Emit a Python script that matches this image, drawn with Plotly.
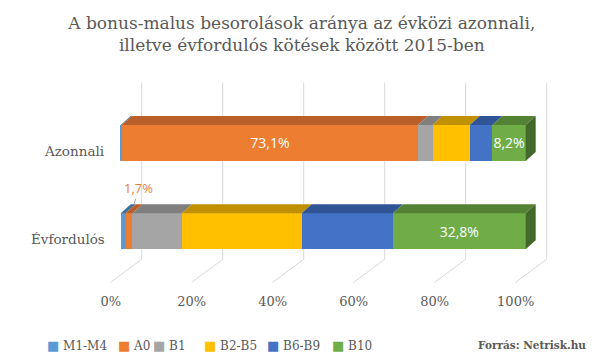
import plotly.graph_objects as go

# ---- data ----
categories = ["Évfordulós", "Azonnali"]
series = ["M1-M4", "A0", "B1", "B2-B5", "B6-B9", "B10"]
azonnali = [0.3, 73.1, 3.6, 9.2, 5.6, 8.2]
evfordulos = [1.2, 1.7, 12.2, 29.6, 22.5, 32.8]
tick_vals = [0, 20, 40, 60, 80, 100]
tick_text = ["0%", "20%", "40%", "60%", "80%", "100%"]
# which values get a data label: (category index, series index)
inside_labels = [(1, 1), (1, 5), (0, 5)]
outside_labels = [(0, 1)]

title = "A bonus-malus besorolások aránya az évközi azonnali,<br>illetve évfordulós kötések között 2015-ben"
source = "Forrás: Netrisk.hu"

# ---- style ----
front_colors = ["#5B9BD5", "#ED7D31", "#A5A5A5", "#FFC000", "#4472C4", "#70AD47"]
top_colors = ["#41719C", "#B9602A", "#7F7F7F", "#BF9000", "#2F5597", "#548235"]
side_colors = ["#335A7D", "#8E4A1F", "#666666", "#997300", "#253F6E", "#43682B"]
grid_color = "#D9D9D9"
text_color = "#595959"
serif = "DejaVu Serif"

bar_w = 0.408      # bar thickness (y units)
dx, dy = 2.47, 0.102   # bar depth offset
wall_dx, wall_bot, wall_top = 5.19, -0.317, 1.683
floor_dx, floor_y = -2.47, -0.578

values = [evfordulos, azonnali]
ypos = list(range(len(categories)))


def fmt(v):
    return f"{v:.1f}%".replace(".", ",")


fig = go.Figure()

# front faces
for si, name in enumerate(series):
    xs = [values[ci][si] for ci in ypos]
    txt = [fmt(values[ci][si]) if (ci, si) in inside_labels else "" for ci in ypos]
    fig.add_trace(go.Bar(
        y=ypos, x=xs, orientation="h", width=bar_w, name=name,
        marker=dict(color=front_colors[si], line=dict(width=0)),
        text=txt, textposition="inside", insidetextanchor="middle",
        textangle=0,
        textfont=dict(color="white", size=14, family="Open Sans"),
        showlegend=False, hoverinfo="skip",
    ))

# top faces and right face
for si, name in enumerate(series):
    px, py = [], []
    for ci in ypos:
        c0 = sum(values[ci][:si])
        c1 = c0 + values[ci][si]
        yt = ci + bar_w / 2
        px += [c0, c1, c1 + dx, c0 + dx, c0, None]
        py += [yt, yt, yt + dy, yt + dy, yt, None]
    fig.add_trace(go.Scatter(x=px, y=py, mode="lines", fill="toself",
                             fillcolor=top_colors[si], line=dict(width=0),
                             showlegend=False, hoverinfo="skip"))

last = len(series) - 1
sx, sy = [], []
for ci in ypos:
    tot = sum(values[ci])
    yb, yt = ci - bar_w / 2, ci + bar_w / 2
    sx += [tot, tot + dx, tot + dx, tot, tot, None]
    sy += [yb, yb + dy, yt + dy, yt, yb, None]
fig.add_trace(go.Scatter(x=sx, y=sy, mode="lines", fill="toself",
                         fillcolor=side_colors[last], line=dict(width=0),
                         showlegend=False, hoverinfo="skip"))

# invisible trace to carry the floor axis
fig.add_trace(go.Scatter(x=tick_vals, y=[floor_y] * len(tick_vals), xaxis="x2",
                         mode="markers", marker=dict(opacity=0),
                         showlegend=False, hoverinfo="skip"))

# back wall + floor gridlines
shapes = []
for v in tick_vals:
    shapes.append(dict(type="line", xref="x", yref="y", layer="below",
                       x0=v + wall_dx, x1=v + wall_dx, y0=wall_bot, y1=wall_top,
                       line=dict(color=grid_color, width=1)))
    shapes.append(dict(type="line", xref="x", yref="y", layer="below",
                       x0=v + wall_dx, x1=v + floor_dx, y0=wall_bot, y1=floor_y,
                       line=dict(color=grid_color, width=1)))

annotations = []
# category labels
for ci, cat in enumerate(categories):
    annotations.append(dict(x=-3.4, y=ci, xref="x", yref="y", text=cat,
                            xanchor="right", yanchor="middle", yshift=-8,
                            showarrow=False,
                            font=dict(family=serif, size=13.5, color=text_color)))
# outside label with leader line
for ci, si in outside_labels:
    c0 = sum(values[ci][:si])
    cx = c0 + values[ci][si] / 2 + dx / 2
    annotations.append(dict(x=cx, y=ci + bar_w / 2 + dy, xref="x", yref="y",
                            text=fmt(values[ci][si]), showarrow=True,
                            arrowhead=0, arrowwidth=1, arrowcolor="#A6A6A6",
                            ax=5, ay=-16, standoff=0,
                            font=dict(family="Open Sans", size=13, color=front_colors[si])))

# legend (manual, Excel-like)
legend_x = [46, 117, 152, 203, 266, 331]
for si, name in enumerate(series):
    annotations.append(dict(
        x=legend_x[si] / 600, y=(358 - 345) / 358, xref="paper", yref="paper",
        xanchor="left", yanchor="middle", showarrow=False, borderpad=0,
        text=f'<span style="color:{front_colors[si]};font-size:13px">■</span> {name}',
        font=dict(family=serif, size=12, color=text_color)))

annotations.append(dict(x=588 / 600, y=(358 - 345) / 358, xref="paper", yref="paper",
                        xanchor="right", yanchor="middle", showarrow=False,
                        text=f"<b>{source}</b>",
                        font=dict(family=serif, size=10.5, color=text_color)))

fig.update_layout(
    width=600, height=358, autosize=False,
    margin=dict(l=0, r=0, t=0, b=0),
    paper_bgcolor="white", plot_bgcolor="white",
    barmode="stack",
    title=dict(text=title, x=0.503, xanchor="center", y=0.918, yanchor="top",
               yref="container",
               font=dict(family=serif, size=17, color=text_color)),
    xaxis=dict(range=[-29.8, 118.35], visible=False, fixedrange=True),
    xaxis2=dict(range=[-27.33, 120.82], overlaying="x", anchor="free",
                position=0.185, side="bottom",
                tickvals=tick_vals, ticktext=tick_text, ticks="",
                showgrid=False, showline=False, zeroline=False,
                tickfont=dict(family=serif, size=13, color=text_color),
                fixedrange=True),
    yaxis=dict(range=[-1.435, 2.619], visible=False, fixedrange=True),
    shapes=shapes, annotations=annotations,
    uniformtext=dict(minsize=14, mode="show"),
    showlegend=False,
)

fig.write_html("out.html", config={"displayModeBar": False},
               post_script="document.body.style.margin='0';")
